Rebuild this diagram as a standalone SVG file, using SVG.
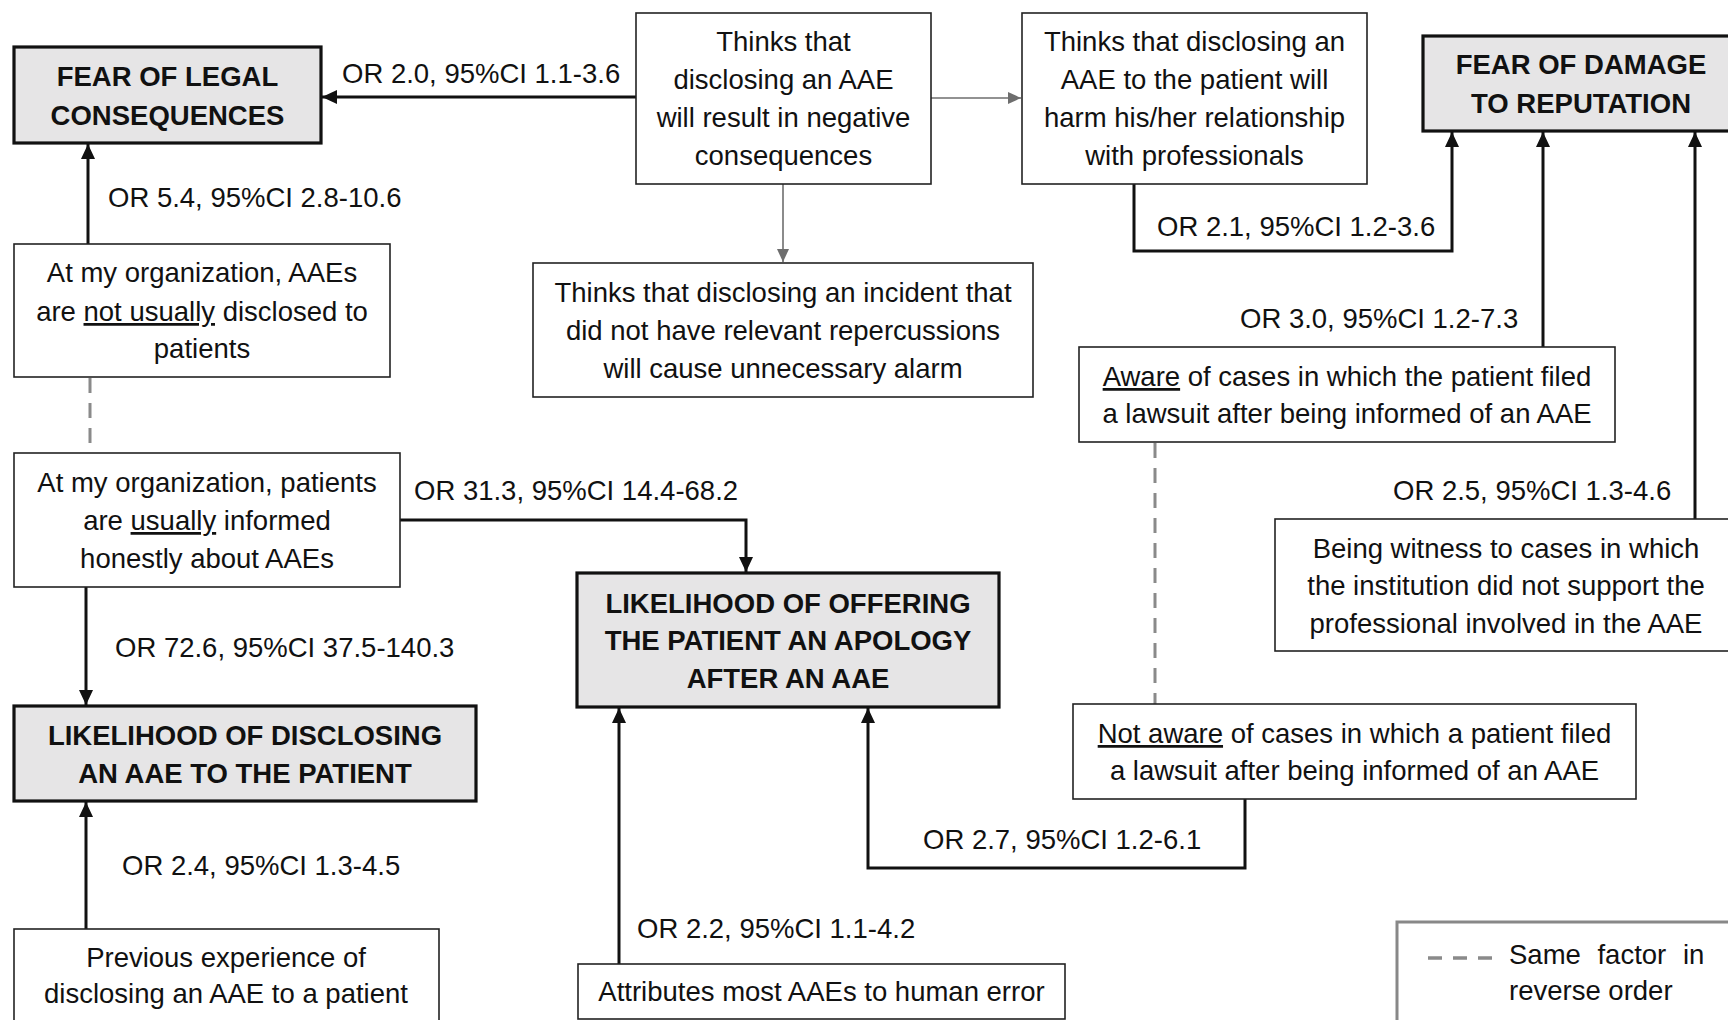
<svg xmlns="http://www.w3.org/2000/svg" width="1728" height="1020" viewBox="0 0 1728 1020">
<style>
text{font-family:"Liberation Sans",Arial,sans-serif;font-size:27.5px;fill:#111}
.c{text-anchor:middle}
.b{font-weight:bold}
.main{fill:#e6e5e6;stroke:#111;stroke-width:3.2}
.box{fill:#fff;stroke:#222;stroke-width:1.6}
.k{fill:none;stroke:#111;stroke-width:3}
.g{fill:none;stroke:#6e6e6e;stroke-width:1.6}
.d{fill:none;stroke:#8a8a8a;stroke-width:3;stroke-dasharray:15 10}
.u{text-decoration:underline}
</style>
<defs>
<marker id="ak" markerUnits="userSpaceOnUse" markerWidth="15" markerHeight="14" refX="15" refY="7" orient="auto">
<path d="M0,0 L15,7 L0,14 z" fill="#111"/>
</marker>
<marker id="ag" markerUnits="userSpaceOnUse" markerWidth="13" markerHeight="12" refX="13" refY="6" orient="auto">
<path d="M0,0 L13,6 L0,12 z" fill="#6e6e6e"/>
</marker>
</defs>
<rect width="1728" height="1020" fill="#fff"/>

<g id="connectors">
<line class="k" x1="636" y1="97" x2="322" y2="97" marker-end="url(#ak)"/>
<line class="g" x1="931" y1="98" x2="1021" y2="98" marker-end="url(#ag)"/>
<line class="g" x1="783" y1="184" x2="783" y2="262" marker-end="url(#ag)"/>
<path class="k" d="M1134,184 V251 H1452 V132" marker-end="url(#ak)"/>
<line class="k" x1="88" y1="244" x2="88" y2="144" marker-end="url(#ak)"/>
<line class="d" x1="90" y1="378" x2="90" y2="453"/>
<path class="k" d="M400,520 H746 V572" marker-end="url(#ak)"/>
<line class="k" x1="86" y1="587" x2="86" y2="705" marker-end="url(#ak)"/>
<line class="k" x1="86" y1="929" x2="86" y2="802" marker-end="url(#ak)"/>
<line class="k" x1="619" y1="964" x2="619" y2="708" marker-end="url(#ak)"/>
<path class="k" d="M1245,799 V868 H868 V708" marker-end="url(#ak)"/>
<line class="d" x1="1155" y1="443" x2="1155" y2="704"/>
<line class="k" x1="1543" y1="347" x2="1543" y2="132" marker-end="url(#ak)"/>
<line class="k" x1="1695" y1="519" x2="1695" y2="132" marker-end="url(#ak)"/>
<text x="342" y="83">OR 2.0, 95%CI 1.1-3.6</text>
<text x="1157" y="236">OR 2.1, 95%CI 1.2-3.6</text>
<text x="108" y="207">OR 5.4, 95%CI 2.8-10.6</text>
<text x="414" y="500">OR 31.3, 95%CI 14.4-68.2</text>
<text x="115" y="657">OR 72.6, 95%CI 37.5-140.3</text>
<text x="122" y="875">OR 2.4, 95%CI 1.3-4.5</text>
<text x="637" y="938">OR 2.2, 95%CI 1.1-4.2</text>
<text x="923" y="849">OR 2.7, 95%CI 1.2-6.1</text>
<text x="1240" y="328">OR 3.0, 95%CI 1.2-7.3</text>
<text x="1393" y="500">OR 2.5, 95%CI 1.3-4.6</text>
</g>

<g id="fear-legal">
<rect class="main" x="14" y="47" width="307" height="96"/>
<text class="c b" x="167.5" y="86">FEAR OF LEGAL</text>
<text class="c b" x="167.5" y="125">CONSEQUENCES</text>
</g>

<g id="negative-consequences">
<rect class="box" x="636" y="13" width="295" height="171"/>
<text class="c" x="783.5" y="51">Thinks that</text>
<text class="c" x="783.5" y="89">disclosing an AAE</text>
<text class="c" x="783.5" y="127">will result in negative</text>
<text class="c" x="783.5" y="165">consequences</text>
</g>

<g id="harm-relationship">
<rect class="box" x="1022" y="13" width="345" height="171"/>
<text class="c" x="1194.5" y="51">Thinks that disclosing an</text>
<text class="c" x="1194.5" y="89">AAE to the patient will</text>
<text class="c" x="1194.5" y="127">harm his/her relationship</text>
<text class="c" x="1194.5" y="165">with professionals</text>
</g>

<g id="fear-reputation">
<rect class="main" x="1423" y="36" width="330" height="95"/>
<text class="c b" x="1581" y="74">FEAR OF DAMAGE</text>
<text class="c b" x="1581" y="113">TO REPUTATION</text>
</g>

<g id="unnecessary-alarm">
<rect class="box" x="533" y="263" width="500" height="134"/>
<text class="c" x="783" y="302">Thinks that disclosing an incident that</text>
<text class="c" x="783" y="340">did not have relevant repercussions</text>
<text class="c" x="783" y="378">will cause unnecessary alarm</text>
</g>

<g id="not-usually-disclosed">
<rect class="box" x="14" y="244" width="376" height="133"/>
<text class="c" x="202" y="282">At my organization, AAEs</text>
<text class="c" x="202" y="321">are <tspan class="u">not usually</tspan> disclosed to</text>
<text class="c" x="202" y="358">patients</text>
</g>

<g id="usually-informed">
<rect class="box" x="14" y="453" width="386" height="134"/>
<text class="c" x="207" y="492">At my organization, patients</text>
<text class="c" x="207" y="530">are <tspan class="u">usually</tspan> informed</text>
<text class="c" x="207" y="568">honestly about AAEs</text>
</g>

<g id="likelihood-disclosing">
<rect class="main" x="14" y="706" width="462" height="95"/>
<text class="c b" x="245" y="745">LIKELIHOOD OF DISCLOSING</text>
<text class="c b" x="245" y="783">AN AAE TO THE PATIENT</text>
</g>

<g id="previous-experience">
<rect class="box" x="14" y="929" width="425" height="120"/>
<text class="c" x="226" y="967">Previous experience of</text>
<text class="c" x="226" y="1003">disclosing an AAE to a patient</text>
</g>

<g id="likelihood-apology">
<rect class="main" x="577" y="573" width="422" height="134"/>
<text class="c b" x="788" y="613">LIKELIHOOD OF OFFERING</text>
<text class="c b" x="788" y="650">THE PATIENT AN APOLOGY</text>
<text class="c b" x="788" y="688">AFTER AN AAE</text>
</g>

<g id="human-error">
<rect class="box" x="578" y="964" width="487" height="55"/>
<text class="c" x="821.5" y="1001">Attributes most AAEs to human error</text>
</g>

<g id="aware-lawsuit">
<rect class="box" x="1079" y="347" width="536" height="95"/>
<text class="c" x="1347" y="386"><tspan class="u">Aware</tspan> of cases in which the patient filed</text>
<text class="c" x="1347" y="423">a lawsuit after being informed of an AAE</text>
</g>

<g id="not-aware-lawsuit">
<rect class="box" x="1073" y="704" width="563" height="95"/>
<text class="c" x="1354.5" y="743"><tspan class="u">Not aware</tspan> of cases in which a patient filed</text>
<text class="c" x="1354.5" y="780">a lawsuit after being informed of an AAE</text>
</g>

<g id="witness-no-support">
<rect class="box" x="1275" y="519" width="470" height="132"/>
<text class="c" x="1506" y="558">Being witness to cases in which</text>
<text class="c" x="1506" y="595">the institution did not support the</text>
<text class="c" x="1506" y="633">professional involved in the AAE</text>
</g>

<g id="legend">
<rect x="1397" y="922" width="350" height="130" fill="#fff" stroke="#888" stroke-width="3"/>
<line x1="1428" y1="958" x2="1492" y2="958" stroke="#8a8a8a" stroke-width="3.5" stroke-dasharray="14 11"/>
<text x="1509" y="964" word-spacing="9">Same factor in</text>
<text x="1509" y="1000">reverse order</text>
</g>
</svg>
